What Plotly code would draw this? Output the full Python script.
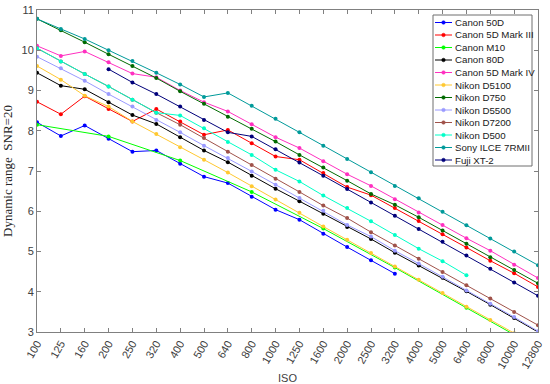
import plotly.graph_objects as go

iso = ["100", "125", "160", "200", "250", "320", "400", "500", "640", "800", "1000",
       "1250", "1600", "2000", "2500", "3200", "4000", "5000", "6400", "8000", "10000", "12800"]

N = None
canon_50d = [8.21, 7.87, 8.13, 7.80, 7.48, 7.51, 7.18, 6.86, 6.70, 6.36, 6.04,
             5.79, 5.44, 5.11, 4.78, 4.45, N, N, N, N, N, N]
canon_5d3 = [8.72, 8.41, 8.86, 8.54, 8.23, 8.54, 8.23, 7.90, 8.02, 7.69, 7.36,
             7.28, 6.95, 6.60, 6.40, 6.08, 5.76, 5.43, 5.10, 4.77, 4.46, 4.12]
canon_m10 = [8.15, N, N, 7.86, N, N, 7.26, N, N, 6.48, N,
             N, 5.57, N, N, 4.60, N, N, 3.60, N, N, 2.60]
canon_80d = [9.44, 9.12, 9.03, 8.71, 8.39, 8.17, 7.84, 7.51, 7.22, 6.88, 6.56,
             6.25, 5.94, 5.61, 5.31, 4.97, 4.65, 4.35, 4.01, 3.68, 3.35, 3.00]
canon_5d4 = [10.11, 9.86, 9.97, 9.70, 9.42, 9.33, 9.00, 8.71, 8.48, 8.16, 7.84,
             7.57, 7.24, 6.92, 6.63, 6.30, 5.97, 5.66, 5.33, 5.02, 4.67, 4.34]
nikon_d5100 = [9.61, 9.27, 8.87, 8.60, 8.23, 7.92, 7.59, 7.28, 6.96, 6.62, 6.29,
               5.96, 5.62, 5.29, 4.96, 4.63, 4.30, 3.97, 3.63, 3.30, 2.97, 2.64]
nikon_d750 = [10.78, 10.50, 10.20, 9.90, 9.61, 9.31, 8.98, 8.67, 8.35, 8.05, 7.73,
              7.40, 7.09, 6.76, 6.43, 6.16, 5.85, 5.52, 5.19, 4.86, 4.54, 4.21]
nikon_d5500 = [9.84, 9.55, 9.24, 8.91, 8.60, 8.27, 7.96, 7.63, 7.32, 6.99, 6.66,
               6.33, 6.01, 5.66, 5.37, 5.02, 4.70, 4.37, 4.03, 3.70, 3.37, 3.02]
nikon_d7200 = [10.05, 9.72, 9.41, 9.10, 8.77, 8.45, 8.15, 7.82, 7.48, 7.15, 6.81,
               6.48, 6.14, 5.83, 5.48, 5.15, 4.82, 4.49, 4.16, 3.83, 3.50, 3.17]
nikon_d500 = [10.05, 9.72, 9.41, 9.10, 8.77, 8.45, 8.38, 8.06, 7.72, 7.40, 7.03,
              6.74, 6.39, 6.08, 5.75, 5.41, 5.07, 4.76, 4.41, N, N, N]
sony_7rm2 = [10.78, 10.53, 10.28, 10.00, 9.73, 9.44, 9.15, 8.84, 8.94, 8.62, 8.30,
             7.96, 7.63, 7.30, 6.97, 6.63, 6.32, 5.99, 5.65, 5.32, 5.00, 4.66]
fuji_xt2 = [N, N, N, 9.53, 9.20, 8.91, 8.60, 8.27, 7.96, 7.86, 7.54,
            7.21, 6.88, 6.55, 6.22, 5.89, 5.56, 5.24, 4.90, 4.57, 4.23, 3.90]

names = ["Canon 50D", "Canon 5D Mark III", "Canon M10", "Canon 80D", "Canon 5D Mark IV",
         "Nikon D5100", "Nikon D750", "Nikon D5500", "Nikon D7200", "Nikon D500",
         "Sony ILCE 7RMII", "Fuji XT-2"]
series = [canon_50d, canon_5d3, canon_m10, canon_80d, canon_5d4, nikon_d5100,
          nikon_d750, nikon_d5500, nikon_d7200, nikon_d500, sony_7rm2, fuji_xt2]
colors = ["#0000FF", "#FF0000", "#00FF00", "#000000", "#FF2FC0", "#FFC830",
          "#006A00", "#9A9AFF", "#A0524A", "#00FFC8", "#009A9A", "#00007A"]

W, H = 550, 384
ML, MR, MT, MB = 37, 12, 10, 52
PW, PH = W - ML - MR, H - MT - MB


def px(xp):
    return (xp - ML) / PW


def py(yp):
    return (H - MB - yp) / PH


fig = go.Figure()
for name, ys, c in zip(names, series, colors):
    fig.add_trace(go.Scatter(
        x=iso, y=ys, name=name, mode="lines+markers", connectgaps=True,
        line=dict(color=c, width=1),
        marker=dict(color=c, size=4, symbol="circle"),
        showlegend=False,
    ))

axis_common = dict(
    showline=True, linecolor="#808080", linewidth=1, mirror="ticks",
    ticks="inside", ticklen=4, tickcolor="#808080", showgrid=False, zeroline=False,
    automargin=False,
    tickfont=dict(family="Liberation Sans", size=11, color="#404040"),
)
fig.update_xaxes(type="category", range=[0, 21], tickangle=-60,
                 title=dict(text="ISO", font=dict(family="Liberation Sans", size=11, color="#404040"),
                            standoff=4),
                 **axis_common)
fig.update_yaxes(range=[3, 11], dtick=1,
                 title=dict(text="Dynamic range  SNR=20",
                            font=dict(family="Liberation Serif", size=13, color="#262626"),
                            standoff=6),
                 **axis_common)

# Legend box drawn by hand so its rows can be as compact as the original
shapes = [dict(type="rect", xref="paper", yref="paper",
               x0=px(433), x1=px(532), y0=py(166), y1=py(15),
               line=dict(color="#6E6E6E", width=1), fillcolor="white", layer="above")]
annotations = []
row0, step = 22.5, 12.5
for i, (name, c) in enumerate(zip(names, colors)):
    yy = row0 + i * step
    shapes.append(dict(type="line", xref="paper", yref="paper",
                       x0=px(435), x1=px(452), y0=py(yy), y1=py(yy),
                       line=dict(color=c, width=1), layer="above"))
    shapes.append(dict(type="circle", xref="paper", yref="paper",
                       x0=px(441.7), x1=px(445.3), y0=py(yy + 1.8), y1=py(yy - 1.8),
                       line=dict(color=c, width=0.5), fillcolor=c, layer="above"))
    annotations.append(dict(xref="paper", yref="paper", x=px(453), y=py(yy),
                            xanchor="left", yanchor="middle", showarrow=False, text=name,
                            font=dict(family="Liberation Sans", size=9.7, color="#202020")))

fig.update_layout(
    width=W, height=H, autosize=False,
    margin=dict(l=ML, r=MR, t=MT, b=MB, pad=0, autoexpand=False),
    plot_bgcolor="white", paper_bgcolor="white",
    shapes=shapes, annotations=annotations,
    showlegend=False,
)
fig.write_html("out.html", config={"displayModeBar": False},
               post_script="document.body.style.margin='0';document.body.style.padding='0';")
